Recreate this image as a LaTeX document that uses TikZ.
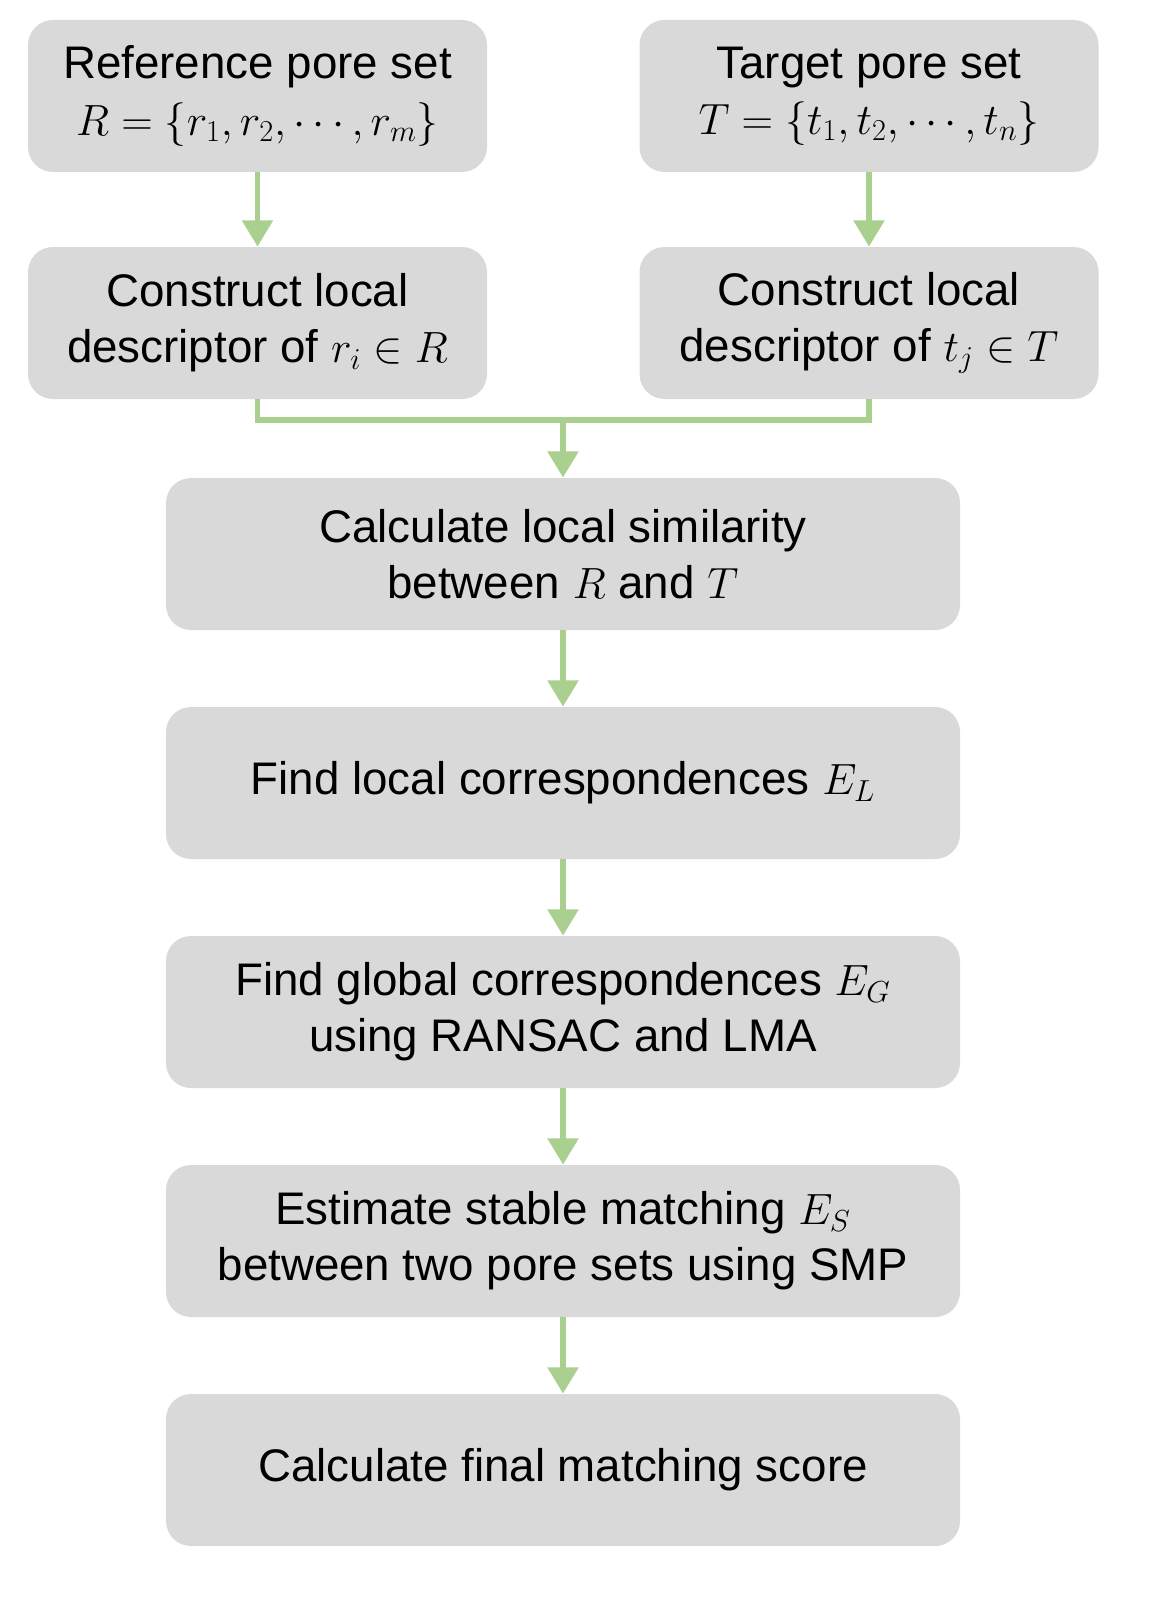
\documentclass[tikz,border=0pt]{standalone}
\usepackage{fontspec}
\setmainfont{Liberation Sans}
\usetikzlibrary{arrows.meta}
\definecolor{boxgray}{RGB}{217,217,217}
\definecolor{arrowgreen}{RGB}{169,208,142}
\begin{document}
\begin{tikzpicture}[
    box/.style={fill=boxgray, rounded corners=0.5cm, align=center, font=\fontsize{26}{32}\selectfont, inner sep=0pt},
    sidebox/.style={box, minimum width=9.18cm, minimum height=3.04cm},
    midbox/.style={box, minimum width=15.88cm, minimum height=3.04cm},
    flow/.style={arrowgreen, line width=3.4pt, -{Triangle[width=17pt,length=15pt]}}
  ]
  \useasboundingbox (0,0) rectangle (23.26,-32.48);
  % upper two columns
  \node[sidebox] (refset) at (5.15,-1.92) {Reference pore set\\$R=\{r_1,r_2,\cdots,r_m\}$};
  \node[sidebox] (tarset) at (17.38,-1.92) {Target pore set\\$T=\{t_1,t_2,\cdots,t_n\}$};
  \node[sidebox] (refdesc) at (5.15,-6.46) {Construct local\\descriptor of $r_i\in R$};
  \node[sidebox] (tardesc) at (17.38,-6.46) {Construct local\\descriptor of $t_j\in T$};
  % main column
  \node[midbox] (simil) at (11.26,-11.08) {Calculate local similarity\\between $R$ and $T$};
  \node[midbox] (localc) at (11.26,-15.66) {Find local correspondences $E_L$};
  \node[midbox] (globalc) at (11.26,-20.24) {Find global correspondences $E_G$\\using RANSAC and LMA};
  \node[midbox] (stable) at (11.26,-24.82) {Estimate stable matching $E_S$\\between two pore sets using SMP};
  \node[midbox] (score) at (11.26,-29.4) {Calculate final matching score};
  \coordinate (merge) at (11.26,-8.4);

  \draw[flow] (refset) -- (refdesc);
  \draw[flow] (tarset) -- (tardesc);
  \draw[arrowgreen, line width=3.4pt] (refdesc.south) |- (merge) -| (tardesc.south);
  \draw[flow] (merge) -- (simil);
  \draw[flow] (simil) -- (localc);
  \draw[flow] (localc) -- (globalc);
  \draw[flow] (globalc) -- (stable);
  \draw[flow] (stable) -- (score);
\end{tikzpicture}
\end{document}
